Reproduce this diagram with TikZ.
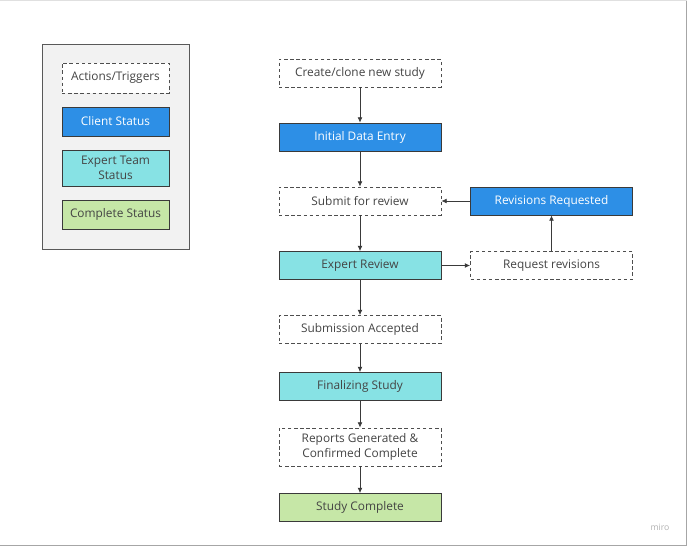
\documentclass[tikz,border=0pt]{standalone}
\usepackage{fontspec}
\setmainfont{Open Sans}
\usetikzlibrary{arrows.meta}
\definecolor{clientblue}{HTML}{2D8FE6}
\definecolor{expertteal}{HTML}{87E2E4}
\definecolor{donegreen}{HTML}{C6E7A7}
\definecolor{legendbg}{HTML}{F2F2F2}
\definecolor{linegray}{HTML}{3A3A3A}
\definecolor{textgray}{HTML}{444444}
\tikzset{
  base/.style={minimum width=121.5pt, minimum height=21pt, inner sep=0pt, align=center,
    font=\fontsize{8.9}{11.4}\selectfont, line width=0.6pt, draw=linegray, text=textgray},
  trig/.style={base, dashed, dash pattern=on 2.6pt off 2pt, draw=linegray!90, fill=white},
  client/.style={base, fill=clientblue, text=white},
  expert/.style={base, fill=expertteal},
  done/.style={base, fill=donegreen},
  flow/.style={draw=linegray, line width=0.55pt, -{Latex[length=4pt,width=3.6pt]}}
}
\begin{document}
\begin{tikzpicture}[x=0.75pt,y=-0.75pt]
\useasboundingbox (0,0) rectangle (688,547);
\fill[white] (0,0) rectangle (688,547);
% frame
\draw[black!35, line width=0.9pt] (0,545.5) -- (686.5,545.5) -- (686.5,0);
\draw[black!12, line width=0.6pt] (0,0.5) -- (686.5,0.5);
\node[text=black!30, font=\fontsize{6.5}{8}\selectfont] (miro) at (660,527) {miro};
% legend
\node[draw=black!65, fill=legendbg, line width=0.7pt, minimum width=110.25pt, minimum height=153.75pt, inner sep=0pt] (legend) at (115.5,146.5) {};
\node[trig, minimum width=80.25pt, minimum height=22.5pt] (lt) at (115.5,78) {Actions/Triggers};
\node[client, minimum width=80.25pt, minimum height=21.75pt] (lc) at (115.5,121.5) {Client Status};
\node[expert, minimum width=80.25pt, minimum height=27pt] (le) at (115.5,168) {Expert Team\\Status};
\node[done, minimum width=80.25pt, minimum height=21.75pt] (ld) at (115.5,214.5) {Complete Status};
% main flow
\node[trig] (create) at (360,73) {Create/clone new study};
\node[client] (initial) at (360,137) {Initial Data Entry};
\node[trig] (submit) at (360,201) {Submit for review};
\node[expert] (review) at (360,265.5) {Expert Review};
\node[trig] (accepted) at (360,329.5) {Submission Accepted};
\node[expert] (final) at (360,386.5) {Finalizing Study};
\node[trig, minimum height=28.5pt] (reports) at (360,447) {Reports Generated \&\\Confirmed Complete};
\node[done] (complete) at (360,507.5) {Study Complete};
\node[client] (revreq) at (551.5,201) {Revisions Requested};
\node[trig] (reqrev) at (551.5,265.5) {Request revisions};
% connectors
\draw[flow] (create) -- (initial);
\draw[flow] (initial) -- (submit);
\draw[flow] (submit) -- (review);
\draw[flow] (review) -- (accepted);
\draw[flow] (accepted) -- (final);
\draw[flow] (final) -- (reports);
\draw[flow] (reports) -- (complete);
\draw[flow] (review) -- (reqrev);
\draw[flow] (reqrev) -- (revreq);
\draw[flow] (revreq) -- (submit);
\end{tikzpicture}
\end{document}
